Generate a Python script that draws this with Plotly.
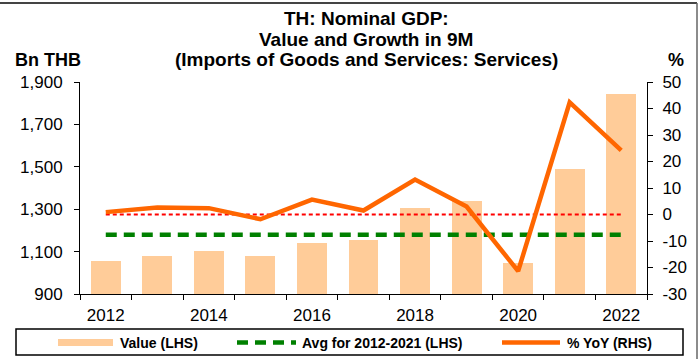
import plotly.graph_objects as go

# ---- data ----
years = [2012, 2013, 2014, 2015, 2016, 2017, 2018, 2019, 2020, 2021, 2022]
value_bn_thb = [1057, 1080, 1102, 1080, 1140, 1154, 1305, 1338, 1047, 1488, 1844]
yoy_pct = [0.9, 2.6, 2.4, -1.8, 5.6, 1.5, 13.2, 3.0, -21.4, 42.3, 24.2]
avg_years = years[:10]  # 2012-2021
x_tick_labels = ["2012", "2014", "2016", "2018", "2020", "2022"]
left_ticks = [900, 1100, 1300, 1500, 1700, 1900]
right_ticks = [-30, -20, -10, 0, 10, 20, 30, 40, 50]

avg_value = sum(value_bn_thb[:10]) / len(avg_years)

# ---- layout geometry ----
W, H = 699, 359
ML, MR, MT, MB = 80, 52, 82, 65
PW, PH = W - ML - MR, H - MT - MB
FONT = "Arial, Liberation Sans, sans-serif"

BAR_COLOR = "#FFCC99"
LINE_COLOR = "#FF6600"
AVG_COLOR = "#008000"
ZERO_COLOR = "#FF0000"


def px_x(p):
    return (p - ML) / PW


def px_y(p):
    return (H - MB - p) / PH


fig = go.Figure()

fig.add_trace(go.Bar(
    x=years, y=value_bn_thb, name="Value (LHS)",
    marker=dict(color=BAR_COLOR, line=dict(width=0)),
    width=0.58, yaxis="y", showlegend=False,
))
fig.add_trace(go.Scatter(
    x=years, y=[avg_value] * len(years), name="Avg for 2012-2021 (LHS)",
    mode="lines", line=dict(color=AVG_COLOR, width=4.5, dash="11px,7px"),
    yaxis="y", showlegend=False,
))
fig.add_trace(go.Scatter(
    x=years, y=[0] * len(years), mode="lines",
    line=dict(color=ZERO_COLOR, width=1.8, dash="4px,3px"),
    yaxis="y2", showlegend=False,
))
fig.add_trace(go.Scatter(
    x=years, y=yoy_pct, name="% YoY (RHS)", mode="lines",
    line=dict(color=LINE_COLOR, width=4.5),
    yaxis="y2", showlegend=False,
))

axis_font = dict(family=FONT, size=17, color="#000000")

fig.update_layout(
    width=W, height=H,
    margin=dict(l=ML, r=MR, t=MT, b=MB, pad=0),
    paper_bgcolor="white", plot_bgcolor="white",
    showlegend=False,
    bargap=0,
    xaxis=dict(
        range=[2011.5, 2022.5],
        tickmode="array",
        tickvals=[int(t) for t in x_tick_labels],
        ticktext=x_tick_labels,
        ticks="outside", ticklen=6, tickcolor="rgba(0,0,0,0)",
        minor=dict(tickmode="array",
                   tickvals=[y - 0.5 for y in years] + [years[-1] + 0.5],
                   ticks="outside", ticklen=5, tickcolor="#000000", tickwidth=1),
        showline=True, linecolor="#000000", linewidth=1,
        showgrid=False, zeroline=False,
        tickfont=axis_font,
    ),
    yaxis=dict(
        range=[900, 1900],
        tickmode="array", tickvals=left_ticks,
        ticktext=[f"{v:,}" for v in left_ticks],
        ticks="outside", ticklen=5, tickcolor="#000000",
        showline=True, linecolor="#000000", linewidth=1,
        showgrid=False, zeroline=False,
        tickfont=axis_font, ticklabelstandoff=8,
    ),
    yaxis2=dict(
        range=[-30, 50], overlaying="y", side="right",
        tickmode="array", tickvals=right_ticks,
        ticktext=[str(v) for v in right_ticks],
        ticks="outside", ticklen=5, tickcolor="#000000",
        showline=True, linecolor="#000000", linewidth=1,
        showgrid=False, zeroline=False,
        tickfont=axis_font, ticklabelstandoff=6,
    ),
)

# ---- titles ----
title_lines = [
    ("TH: Nominal GDP:", 18),
    ("Value and Growth in 9M", 39),
    ("(Imports of Goods and Services: Services)", 60),
]
for text, yc in title_lines:
    fig.add_annotation(
        text=f"<b>{text}</b>", xref="paper", yref="paper",
        x=px_x(366), y=px_y(yc), xanchor="center", yanchor="middle",
        showarrow=False, font=dict(family=FONT, size=19, color="#000000"),
    )

fig.add_annotation(
    text="<b>Bn THB</b>", xref="paper", yref="paper",
    x=px_x(13), y=px_y(60), xanchor="left", yanchor="middle",
    showarrow=False, font=dict(family=FONT, size=18, color="#000000"),
)
fig.add_annotation(
    text="<b>%</b>", xref="paper", yref="paper",
    x=px_x(666), y=px_y(60), xanchor="left", yanchor="middle",
    showarrow=False, font=dict(family=FONT, size=18, color="#000000"),
)

# ---- legend box and frame ----
shapes = [
    # outer frame (top and right edges)
    dict(type="line", xref="paper", yref="paper",
         x0=px_x(0), x1=px_x(697), y0=px_y(3), y1=px_y(3),
         line=dict(color="#444444", width=2)),
    dict(type="line", xref="paper", yref="paper",
         x0=px_x(697), x1=px_x(697), y0=px_y(3), y1=px_y(359),
         line=dict(color="#666666", width=1.5)),
    dict(type="rect", xref="paper", yref="paper",
         x0=px_x(16), x1=px_x(683), y0=px_y(355), y1=px_y(329),
         line=dict(color="#000000", width=1.5), fillcolor="rgba(0,0,0,0)"),
    dict(type="rect", xref="paper", yref="paper",
         x0=px_x(58), x1=px_x(113), y0=px_y(346), y1=px_y(339),
         line=dict(width=0), fillcolor=BAR_COLOR),
    dict(type="line", xref="paper", yref="paper",
         x0=px_x(237), x1=px_x(296), y0=px_y(342.5), y1=px_y(342.5),
         line=dict(color=AVG_COLOR, width=4.5, dash="11px,7px")),
    dict(type="line", xref="paper", yref="paper",
         x0=px_x(502), x1=px_x(560), y0=px_y(342.5), y1=px_y(342.5),
         line=dict(color=LINE_COLOR, width=4.5)),
]
fig.update_layout(shapes=shapes)

legend_labels = [
    ("Value (LHS)", 118),
    ("Avg for 2012-2021 (LHS)", 300),
    ("% YoY (RHS)", 565),
]
for text, xl in legend_labels:
    fig.add_annotation(
        text=f"<b>{text}</b>", xref="paper", yref="paper",
        x=px_x(xl), y=px_y(342.5), xanchor="left", yanchor="middle",
        showarrow=False, font=dict(family=FONT, size=14, color="#000000"),
    )

fig.write_html("out.html")
